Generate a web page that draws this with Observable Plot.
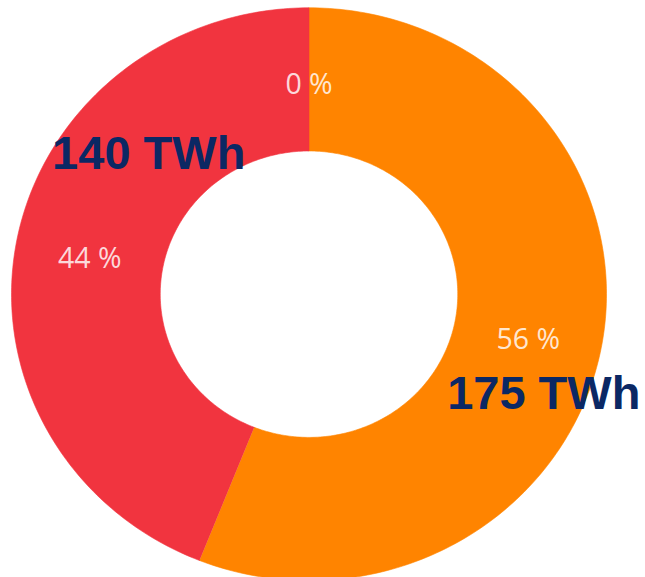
<!DOCTYPE html>
<html>
<head>
<meta charset="utf-8">
<script src="https://cdn.jsdelivr.net/npm/d3@7"></script>
<script src="https://cdn.jsdelivr.net/npm/@observablehq/plot@0.6"></script>
<style>
  html, body { margin: 0; padding: 0; background: #fff; overflow: hidden; }
  #chart svg { display: block; }
</style>
</head>
<body>
<div id="chart"></div>
<script>
// ---- data (clockwise from 12 o'clock) ----
const categories = ["Segment A", "Segment B", "Segment C"];
const shares = [56, 44, 0];                 // percent
const energy = ["175 TWh", "140 TWh", null]; // annotation labels
const colors = ["#ff8400", "#f1343f", "#f1343f"];

// ---- derived geometry (unit donut, scaled by Plot's x/y scales) ----
const inner = 0.5, outer = 1, labelR = 0.75;
const total = d3.sum(shares);
let cum = 0;
const segs = categories.map((c, i) => {
  const a0 = cum / total * 2 * Math.PI;
  cum += shares[i];
  const a1 = cum / total * 2 * Math.PI;
  return {category: c, share: shares[i], energy: energy[i], color: colors[i], a0, a1};
});

function arcPoints(s) {
  const n = Math.max(2, Math.ceil((s.a1 - s.a0) / (Math.PI / 180)));
  const pts = [];
  for (let k = 0; k <= n; k++) {
    const a = s.a0 + (s.a1 - s.a0) * k / n;
    pts.push({x: outer * Math.sin(a), y: outer * Math.cos(a)});
  }
  for (let k = n; k >= 0; k--) {
    const a = s.a0 + (s.a1 - s.a0) * k / n;
    pts.push({x: inner * Math.sin(a), y: inner * Math.cos(a)});
  }
  return pts;
}

const labels = segs.map(s => {
  const a = (s.a0 + s.a1) / 2;
  return {...s, x: labelR * Math.sin(a), y: labelR * Math.cos(a)};
});

const arcMarks = segs.filter(s => s.share > 0).map(s =>
  Plot.line(arcPoints(s), {x: "x", y: "y", fill: s.color, stroke: s.color, strokeWidth: 0.6, curve: "linear"})
);

const chart = Plot.plot({
  width: 645,
  height: 577,
  margin: 0,
  x: {domain: [-1, 1], range: [11, 606], axis: null},
  y: {domain: [-1, 1], range: [580.1, 7.3], axis: null},
  marks: [
    ...arcMarks,
    Plot.text(labels, {
      x: "x", y: "y", text: d => d.share + " %",
      fill: "#ffffff", fillOpacity: 0.82,
      fontSize: 28.5, fontFamily: "Open Sans", dy: 5
    }),
    Plot.text(labels.filter(d => d.category === "Segment A"), {
      x: "x", y: "y", text: "energy",
      fill: "#0b2864", fontSize: 47, fontWeight: "bold",
      fontFamily: "Liberation Sans, Arial, sans-serif", dx: 15.6, dy: 59.4
    }),
    Plot.text(labels.filter(d => d.category === "Segment B"), {
      x: "x", y: "y", text: "energy",
      fill: "#0b2864", fontSize: 47, fontWeight: "bold",
      fontFamily: "Liberation Sans, Arial, sans-serif", dx: 58.9, dy: -100.2
    })
  ]
});
document.getElementById("chart").append(chart);
</script>
</body>
</html>
